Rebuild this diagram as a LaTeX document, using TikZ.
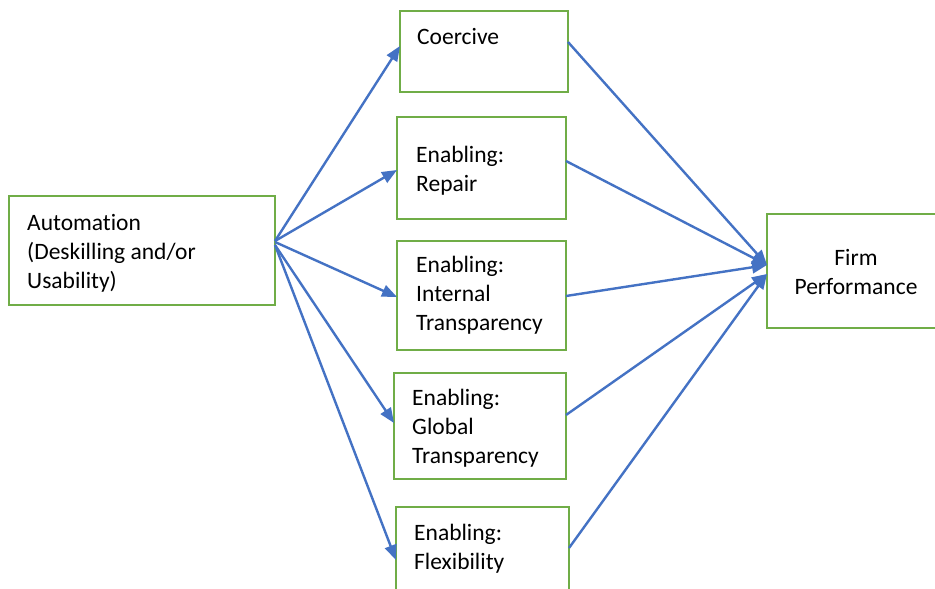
\documentclass[tikz,border=0pt]{standalone}
\usepackage{fontspec}
\setmainfont{Carlito}[Ligatures=NoCommon]
\usetikzlibrary{arrows.meta}
\definecolor{boxgreen}{HTML}{70AD47}
\definecolor{arrowblue}{HTML}{4472C4}
\begin{document}
\begin{tikzpicture}[x=1pt,y=-1pt,
  stagebox/.style={draw=boxgreen,line width=2pt,rectangle,inner sep=0pt,outer sep=0pt,anchor=north west},
  lbl/.style={inner sep=0pt,anchor=base west,font=\fontsize{23.5}{29}\selectfont},
  clbl/.style={inner sep=0pt,anchor=base,font=\fontsize{23.5}{29}\selectfont},
  arr/.style={draw=arrowblue,line width=2.4pt,-{Triangle[length=15pt,width=12pt]}}]
\clip (0,0) rectangle (935,589);
\fill[white] (0,0) rectangle (935,589);

% boxes
\node[stagebox,minimum width=266pt,minimum height=109pt] (aut) at (9,196) {};
\node[stagebox,minimum width=168pt,minimum height=81pt] (coer) at (400,11) {};
\node[stagebox,minimum width=169pt,minimum height=102pt] (rep) at (397,117) {};
\node[stagebox,minimum width=169pt,minimum height=109pt] (intl) at (397,241) {};
\node[stagebox,minimum width=172pt,minimum height=106pt] (glob) at (394,373) {};
\node[stagebox,minimum width=173pt,minimum height=110pt] (flex) at (396,507) {};
\node[stagebox,minimum width=190pt,minimum height=114pt] (firm) at (767,214) {};

% labels
\node[lbl] (autt) at (27,230) {\begin{tabular}[t]{@{}l@{}}Automation\\(Deskilling and/or\\Usability)\end{tabular}};
\node[lbl] (coert) at (417,45) {Coercive};
\node[lbl] (rept) at (416,162) {\begin{tabular}[t]{@{}l@{}}Enabling:\\Repair\end{tabular}};
\node[lbl] (intlt) at (416,272) {\begin{tabular}[t]{@{}l@{}}Enabling:\\Internal\\Transparency\end{tabular}};
\node[lbl] (globt) at (412,405) {\begin{tabular}[t]{@{}l@{}}Enabling:\\Global\\Transparency\end{tabular}};
\node[lbl] (flext) at (414,540) {\begin{tabular}[t]{@{}l@{}}Enabling:\\Flexibility\end{tabular}};
\node[clbl] (firmt) at (856,265) {\begin{tabular}[t]{@{}c@{}}Firm\\Performance\end{tabular}};

% automation to each control type
\draw[arr] (aut.east |- 0,241) -- (coer.west |- 0,46);
\draw[arr] (aut.east |- 0,241) -- (rep.west |- 0,170);
\draw[arr] (aut.east |- 0,242) -- (intl.west |- 0,297);
\draw[arr] (aut.east |- 0,245) -- (glob.west |- 0,423);
\draw[arr] (aut.east |- 0,245) -- (flex.west |- 0,560);

% control types to firm performance
\draw[arr] (coer.east |- 0,42) -- (firm.west |- 0,265);
\draw[arr] (rep.east |- 0,161) -- (firm.west |- 0,265);
\draw[arr] (intl.east |- 0,296) -- (firm.west |- 0,265);
\draw[arr] (glob.east |- 0,415) -- (firm.west |- 0,274);
\draw[arr] (flex.east |- 0,548) -- (firm.west |- 0,274);
\end{tikzpicture}
\end{document}
